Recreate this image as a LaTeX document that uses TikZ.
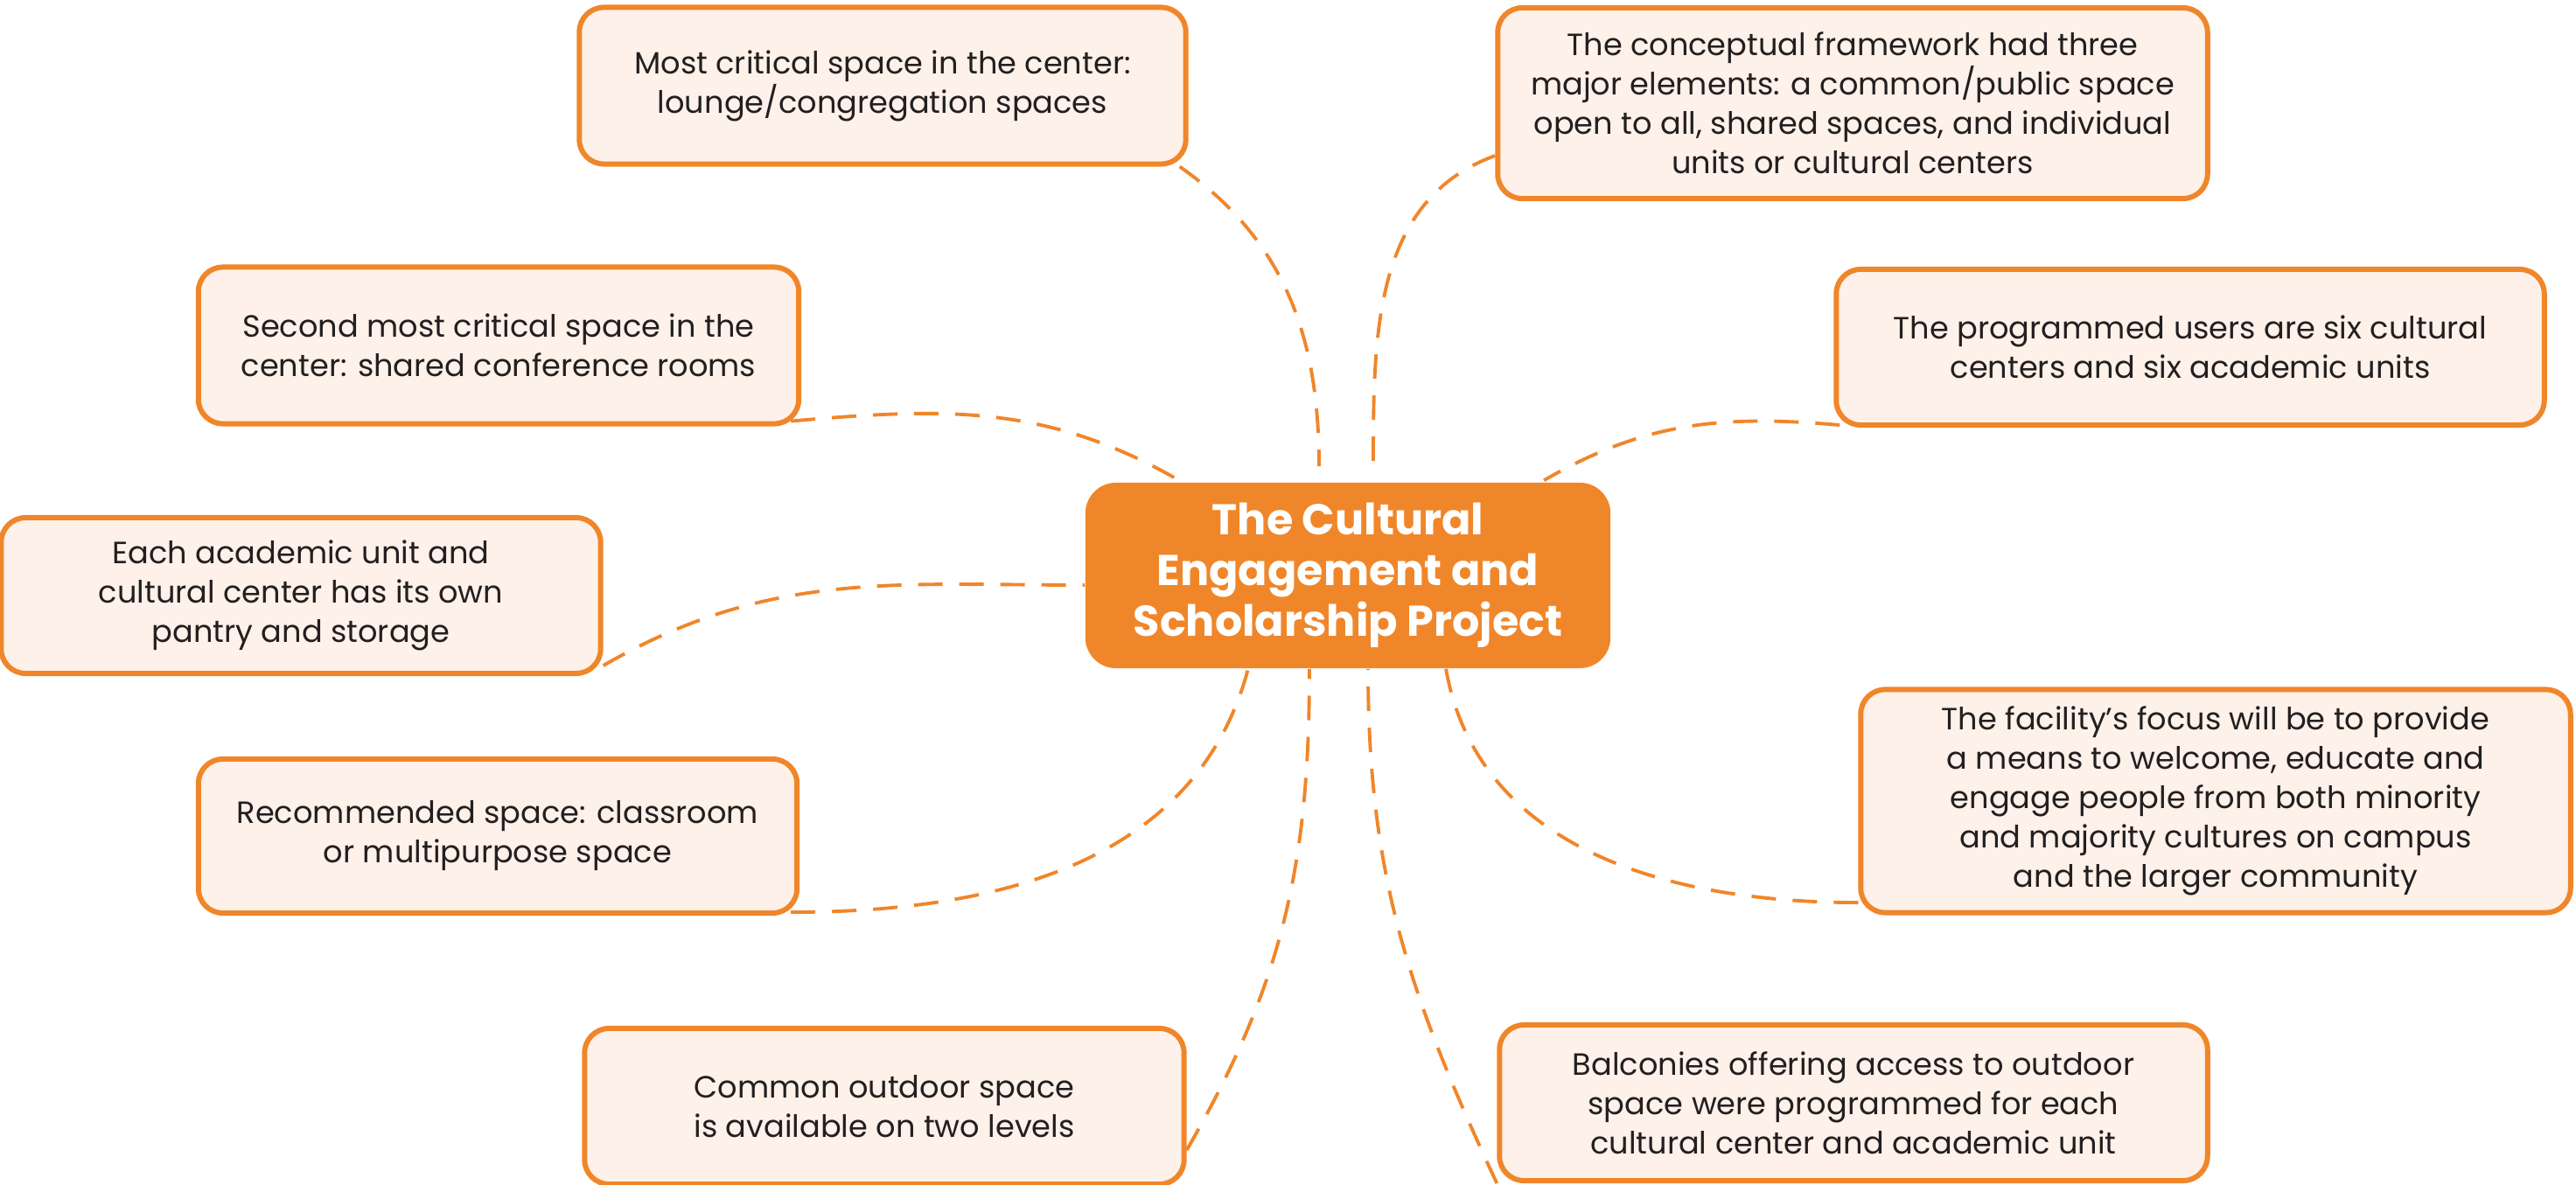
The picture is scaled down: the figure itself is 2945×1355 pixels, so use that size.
\documentclass[tikz,border=0pt]{standalone}
\usepackage{fontspec}
\setmainfont{Poppins}
\usepackage{xcolor}
\definecolor{hotorange}{HTML}{F0862A}
\definecolor{paleorange}{HTML}{FDF1E9}
\definecolor{inkgray}{HTML}{231F20}
\tikzset{
	idea/.style = {draw = hotorange, line width = 1.7pt, rounded corners = 0.28cm, fill = paleorange, align = center, text = inkgray, inner sep = 0pt, font = \fontsize{10}{12.8}\selectfont},
	hub/.style = {fill = hotorange, rounded corners = 0.35cm, align = center, text = white, inner sep = 0pt, font = \fontsize{14}{16.5}\selectfont\bfseries},
	link/.style = {draw = hotorange, line width = 1.1pt, dash pattern = on 0.28cm off 0.19cm}
}

\begin{document}
\begin{tikzpicture}[x = 0.01cm, y = -0.01cm]
			\useasboundingbox (0,0) rectangle (2945,1355);
			
			\node[hub, minimum width = 6cm, minimum height = 2.12cm] (center) at (1541,658) {The Cultural\\Engagement and\\Scholarship Project};
			
			\node[idea, minimum width = 6.93cm, minimum height = 1.79cm] (lounge) at (1009,98) {Most critical space in the center:\\lounge/congregation spaces};
			\node[idea, minimum width = 8.11cm, minimum height = 2.18cm] (framework) at (2118,118) {The conceptual framework had three\\major elements: a common/public space\\open to all, shared spaces, and individual\\units or cultural centers};
			\node[idea, minimum width = 6.86cm, minimum height = 1.79cm] (conference) at (570,395) {Second most critical space in the\\center: shared conference rooms};
			\node[idea, minimum width = 8.09cm, minimum height = 1.78cm] (users) at (2504,397) {The programmed users are six cultural\\centers and six academic units};
			\node[idea, minimum width = 6.85cm, minimum height = 1.78cm] (pantry) at (344,681) {Each academic unit and\\cultural center has its own\\pantry and storage};
			\node[idea, minimum width = 6.84cm, minimum height = 1.76cm] (classroom) at (569,956) {Recommended space: classroom\\or multipurpose space};
			\node[idea, minimum width = 8.11cm, minimum height = 2.55cm] (focus) at (2533,916) {The facility’s focus will be to provide\\a means to welcome, educate and\\engage people from both minority\\and majority cultures on campus\\and the larger community};
			\node[idea, minimum width = 6.85cm, minimum height = 1.78cm] (outdoor) at (1011,1265) {Common outdoor space\\is available on two levels};
			\node[idea, minimum width = 8.09cm, minimum height = 1.78cm] (balconies) at (2119,1261) {Balconies offering access to outdoor\\space were programmed for each\\cultural center and academic unit};
			
			% upper links
			\draw[link] ([xshift = -0.1cm]lounge.south east) to[out = -35, in = 90] ([xshift = -0.33cm, yshift = 0.18cm]center.north);
			\draw[link] ([yshift = -0.6cm]framework.west) to[out = 200, in = 90] ([xshift = 0.29cm, yshift = 0.18cm]center.north);
			\draw[link] ([xshift = -0.12cm, yshift = 0.06cm]conference.south east) to[out = 5, in = 150] ([xshift = -1.93cm, yshift = 0.02cm]center.north);
			\draw[link] ([xshift = 0.07cm, yshift = 0.03cm]users.south west) to[out = 175, in = 30] ([xshift = 2.24cm, yshift = 0.02cm]center.north);
			
			% side links
			\draw[link] ([yshift = -0.8cm]pantry.east) to[out = 30, in = 180] ([yshift = -0.11cm]center.west);
			\draw[link] ([xshift = -0.1cm, yshift = 0.04cm]classroom.south east) to[out = 0, in = -105] ([xshift = -1.14cm]center.south);
			\draw[link] ([yshift = -1.16cm]focus.west) to[out = 180, in = -80] ([xshift = 1.12cm]center.south);
			
			% lower links
			\draw[link] ([yshift = -0.5cm]outdoor.east) to[out = 60, in = -90] ([xshift = -0.44cm]center.south);
			\draw[link] (balconies.south west) to[out = 115, in = -90] ([xshift = 0.23cm]center.south);
			
\end{tikzpicture}
\end{document}
